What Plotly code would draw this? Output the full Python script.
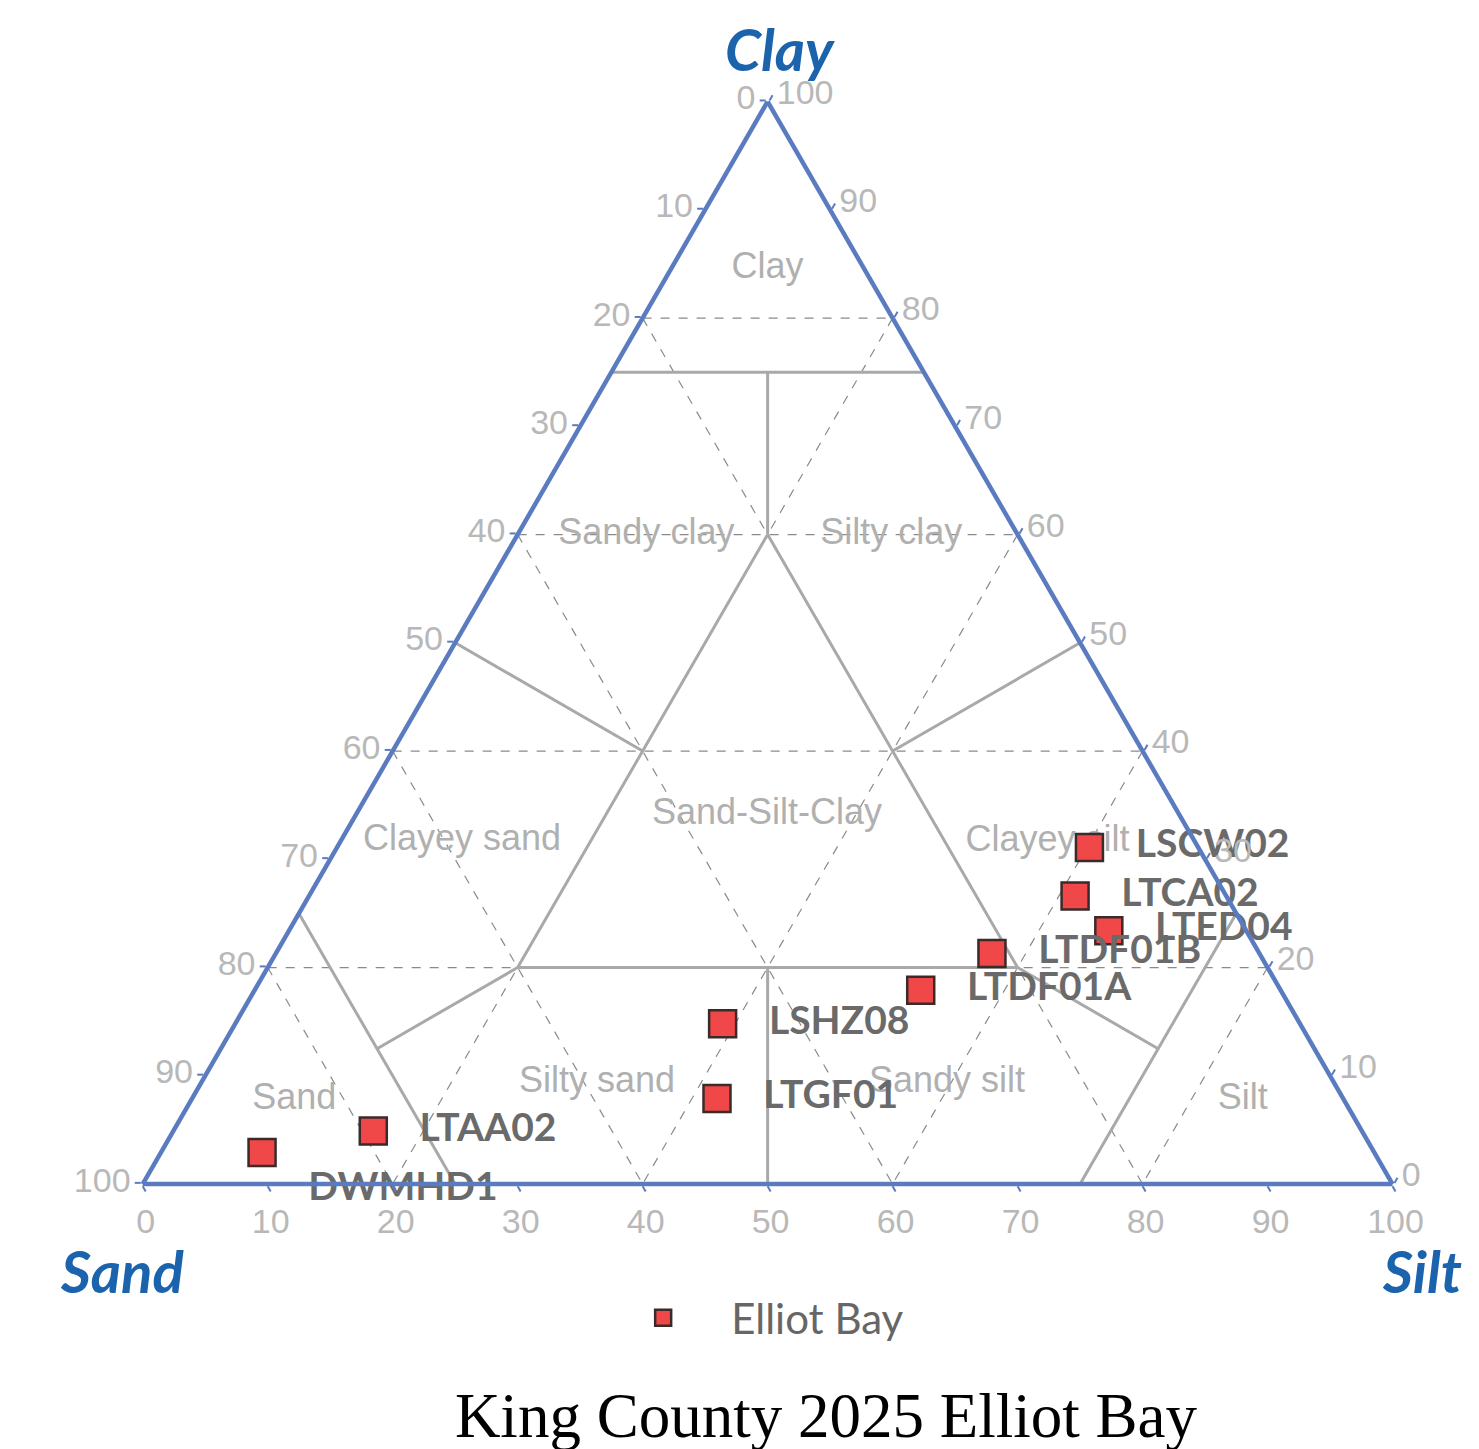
import plotly.graph_objects as go

# ---- sample data (percent) ----
sites = ["LSCW02", "LTCA02", "LTED04", "LTDF01B", "LTDF01A", "LSHZ08", "LTGF01", "LTAA02", "DWMHD1"]
clay = [31.1, 26.6, 23.4, 21.3, 17.9, 14.8, 7.9, 4.9, 2.9]
sand = [8.7, 12.1, 11.0, 21.4, 28.8, 46.2, 50.1, 79.1, 89.0]
silt = [60.2, 61.3, 65.6, 57.3, 53.3, 39.0, 42.0, 16.0, 8.1]
label_positions = ["middle right"] * 8 + ["bottom right"]

# ---- Shepard classification region names and label compositions ----
region_names = ["Clay", "Sandy clay", "Silty clay", "Clayey sand", "Sand-Silt-Clay",
                "Clayey silt", "Sand", "Silty sand", "Sandy silt", "Silt"]
region_clay = [84.5, 60.0, 60.0, 31.7, 34.1, 31.6, 7.75, 9.3, 9.3, 7.75]
region_sand = [7.75, 29.7, 10.1, 58.6, 33.0, 11.8, 84.0, 59.0, 31.0, 8.1]
region_silt = [7.75, 10.3, 29.9, 9.7, 32.9, 56.6, 8.25, 31.7, 59.7, 84.15]

# boundary polylines: lists of (clay, sand, silt)
boundaries = [
    [(75, 25, 0), (75, 0, 25)],
    [(75, 12.5, 12.5), (60, 20, 20)],
    [(60, 20, 20), (20, 60, 20), (20, 20, 60), (60, 20, 20)],
    [(40, 40, 20), (50, 50, 0)],
    [(40, 20, 40), (50, 0, 50)],
    [(20, 40, 40), (0, 50, 50)],
    [(25, 75, 0), (0, 75, 25)],
    [(20, 60, 20), (12.5, 75, 12.5)],
    [(25, 0, 75), (0, 25, 75)],
    [(20, 20, 60), (12.5, 12.5, 75)],
]

grid_levels = [20, 40, 60, 80]
tick_vals = list(range(0, 101, 10))
tick_text = [str(100 - v) for v in tick_vals]

axis_titles = ["Clay", "Sand", "Silt"]
chart_title = "King County 2025 Elliot Bay"

fig = go.Figure()

# dashed grid
ga, gb, gc = [], [], []
for v in grid_levels:
    for seg in [([v, v], [100 - v, 0], [0, 100 - v]),
                ([100 - v, 0], [v, v], [0, 100 - v]),
                ([100 - v, 0], [0, 100 - v], [v, v])]:
        ga += seg[0] + [None]
        gb += seg[1] + [None]
        gc += seg[2] + [None]
fig.add_trace(go.Scatterternary(a=ga, b=gb, c=gc, mode="lines",
                                line=dict(color="#8a8a8a", width=1.2, dash="dash"),
                                showlegend=False, hoverinfo="skip"))

# solid region boundaries
ba, bb, bc = [], [], []
for poly in boundaries:
    for (cl, sa, si) in poly:
        ba.append(cl); bb.append(sa); bc.append(si)
    ba.append(None); bb.append(None); bc.append(None)
fig.add_trace(go.Scatterternary(a=ba, b=bb, c=bc, mode="lines",
                                line=dict(color="#a9a9a9", width=3),
                                showlegend=False, hoverinfo="skip"))

# region labels
fig.add_trace(go.Scatterternary(a=region_clay, b=region_sand, c=region_silt,
                                mode="text", text=region_names,
                                textfont=dict(family="Liberation Sans", size=36, color="#b0b0b0"),
                                showlegend=False, hoverinfo="skip", cliponaxis=False))

# samples
fig.add_trace(go.Scatterternary(
    a=clay, b=sand, c=silt, mode="markers+text", name="Elliot Bay",
    text=["\u00a0\u00a0\u00a0" + s for s in sites], textposition=label_positions,
    textfont=dict(family="Lato", size=39, color="#6a6a6a", weight="bold"),
    marker=dict(symbol="square", size=27, color="#f04848",
                line=dict(color="#3a2a2a", width=2.5)),
    cliponaxis=False))

axis_common = dict(
    showgrid=False, showline=True, linecolor="#5b7bc0", linewidth=4.5,
    ticks="outside", ticklen=6, tickwidth=2, tickcolor="#5b7bc0",
    tickmode="array", tickvals=tick_vals, ticktext=tick_text,
    tickfont=dict(family="Liberation Sans", size=34, color="#b8b8b8"),
    min=0, title=dict(text=""),
)
title_font = dict(family="Lato", size=58, color="#1b64ad", weight="bold", style="italic")

annotations = []
for name, (ax, ay) in zip(axis_titles, [(0.522, 0.972), (0.077, 0.129), (0.956, 0.129)]):
    annotations.append(dict(text=name, x=ax, y=ay, xref="paper", yref="paper",
                            xanchor="center", yanchor="middle", showarrow=False,
                            font=title_font))

fig.update_layout(
    width=1479, height=1449,
    paper_bgcolor="white",
    margin=dict(l=0, r=0, t=0, b=0),
    ternary=dict(
        sum=100,
        bgcolor="white",
        domain=dict(x=[0.0910, 0.9362], y=[0.1884, 0.9354]),
        aaxis=axis_common,
        baxis=axis_common,
        caxis=axis_common,
    ),
    annotations=annotations,
    showlegend=True,
    legend=dict(x=0.397, y=0.096, xanchor="left", yanchor="middle",
                font=dict(family="Lato", size=42, color="#666666"),
                itemwidth=126, bgcolor="rgba(0,0,0,0)"),
    title=dict(text=chart_title, x=0.553, xanchor="center",
               y=0.029, yanchor="middle", yref="container",
               font=dict(family="Liberation Serif", size=63, color="black")),
)

fig.write_html("out.html")
